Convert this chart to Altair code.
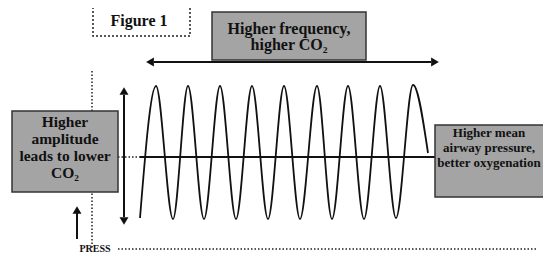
import altair as alt
import pandas as pd

# ---- boxes (image coordinates) ----
box_names = ["fig", "freq", "amp", "mean"]
box_x1 = [93, 212, 12, 435]
box_x2 = [190, 366, 118, 570]
box_y1 = [5, 12, 111, 125]
box_y2 = [36, 60, 192, 197]
box_fill = ["#ffffff", "#a4a4a4", "#a4a4a4", "#a4a4a4"]

# ---- texts ----
text_lines = ["Figure 1", "Higher frequency,", "higher CO₂", "Higher", "amplitude",
              "leads to lower", "CO₂", "Higher mean", "airway pressure,",
              "better oxygenation", "PRESS"]
text_x = [139, 289, 289, 65, 65, 65, 65, 489, 489, 489, 95]
text_y = [21, 29, 45, 122, 139, 156, 173, 133, 148, 163, 249]
text_size = [16, 16, 16, 15.5, 15.5, 15.5, 15.5, 13, 13, 13, 10]

# ---- oscillation extrema ----
wave_x = [140, 156, 173, 188, 204, 220, 236, 252, 268, 284, 300, 317, 332, 348, 364, 380, 396, 413, 428]
wave_y = [218, 86, 219, 86, 219, 86, 219, 86, 219, 86, 219, 86, 219, 86, 219, 86, 218, 85, 153]

# ---- line segments ----
solid_x1 = [154, 124, 77, 140]
solid_x2 = [431, 124, 77, 435]
solid_y1 = [62, 95, 213, 157]
solid_y2 = [62, 217, 239, 157]

dot_x1 = [118, 92, 118]
dot_x2 = [140, 92, 537]
dot_y1 = [157, 71, 249]
dot_y2 = [157, 249, 249]

# ---- arrow heads ----
head_x = [150, 435, 124, 124, 77]
head_y = [62, 62, 91, 221, 210]
head_shape = ["triangle-left", "triangle-right", "triangle-up", "triangle-down", "triangle-up"]

boxes = pd.DataFrame({"name": box_names, "x1": box_x1, "x2": box_x2,
                      "y1": box_y1, "y2": box_y2, "fill": box_fill})
texts = pd.DataFrame({"t": text_lines, "x": text_x, "y": text_y, "s": text_size})
wave = pd.DataFrame({"x": wave_x, "y": wave_y})
solid = pd.DataFrame({"x1": solid_x1, "x2": solid_x2, "y1": solid_y1, "y2": solid_y2})
dots = pd.DataFrame({"x1": dot_x1, "x2": dot_x2, "y1": dot_y1, "y2": dot_y2})
heads = pd.DataFrame({"x": head_x, "y": head_y, "shape": head_shape})

# page pixels 8..543 x 8..254 (inside the 8px page margin)
XS = alt.Scale(domain=[8, 543], nice=False, zero=False)
YS = alt.Scale(domain=[8, 254], nice=False, zero=False, reverse=True)
FONT = "Liberation Serif, DejaVu Serif, Times New Roman, serif"


def X(f):
    return alt.X(f, type="quantitative", scale=XS, axis=None)


def Y(f):
    return alt.Y(f, type="quantitative", scale=YS, axis=None)


grey_boxes = alt.Chart(boxes[boxes.name != "fig"]).mark_rect(
    stroke="#333333", strokeWidth=1.5, clip=True
).encode(x=X("x1"), x2="x2", y=Y("y1"), y2="y2",
         fill=alt.Fill("fill:N", scale=None))

fig_box = alt.Chart(boxes[boxes.name == "fig"]).mark_rect(
    stroke="#222222", strokeWidth=1.5, strokeDash=[2, 2], fill="#ffffff", clip=True
).encode(x=X("x1"), x2="x2", y=Y("y1"), y2="y2")

txt = alt.Chart(texts).mark_text(
    font=FONT, fontWeight="bold", color="#111111", clip=True, baseline="middle", align="center"
).encode(x=X("x"), y=Y("y"), text="t:N", size=alt.Size("s:Q", scale=None))

wave_line = alt.Chart(wave).mark_line(
    color="#111111", strokeWidth=1.8, interpolate="monotone", clip=True
).encode(x=X("x"), y=Y("y"))

solid_rules = alt.Chart(solid).mark_rule(color="#111111", strokeWidth=2).encode(
    x=X("x1"), x2="x2", y=Y("y1"), y2="y2")

dot_rules = alt.Chart(dots).mark_rule(color="#222222", strokeWidth=1.5, strokeDash=[1.5, 2]).encode(
    x=X("x1"), x2="x2", y=Y("y1"), y2="y2")

arrow_heads = alt.Chart(heads).mark_point(filled=True, color="#111111", opacity=1, size=80).encode(
    x=X("x"), y=Y("y"), shape=alt.Shape("shape:N", scale=None))

chart = alt.layer(
    dot_rules, solid_rules, wave_line, grey_boxes, fig_box, arrow_heads, txt
).properties(
    width=535, height=246, padding=0, autosize=alt.AutoSizeParams(type="none"),
    background="#ffffff"
).configure_view(stroke=None)

chart.save("out.html", embed_options={"renderer": "svg", "actions": False})
